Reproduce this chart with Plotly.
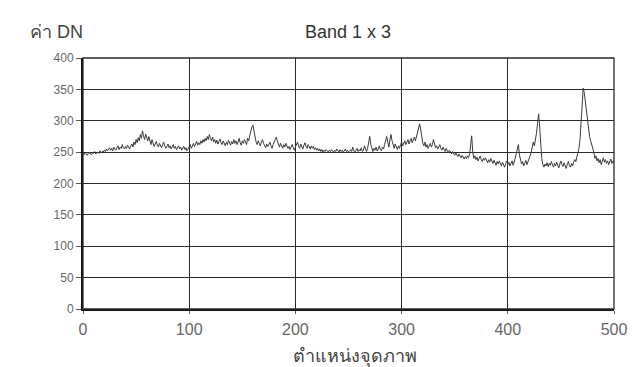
import plotly.graph_objects as go

# Pixel positions (band 1 x 3 profile)
dn_values = [
    248, 246, 249, 247, 245, 248, 250, 247, 246, 249, 248, 251, 247, 249, 250, 248, 252, 249, 251, 250,
    253, 251, 255, 252, 254, 257, 253, 256, 252, 258, 255, 253, 257, 260, 254, 258, 256, 262, 257, 255,
    259, 256, 261, 258, 255, 260, 263, 258, 266, 262, 270, 265, 273, 268, 278, 272, 284, 276, 270, 279,
    274, 268, 275, 266, 262, 270, 264, 259, 263, 267, 261, 258, 264, 260, 257, 262, 266, 260, 256, 259,
    263, 257, 260, 255, 258, 262, 256, 259, 254, 257, 260, 255, 258, 253, 256, 259, 254, 257, 252, 256,
    258, 262, 256, 260, 264, 259, 263, 267, 261, 265, 262, 268, 264, 270, 266, 272, 268, 275, 270, 278,
    272, 268, 274, 266, 270, 264, 269, 263, 267, 271, 265, 262, 268, 264, 260, 266, 262, 269, 265, 261,
    267, 263, 270, 264, 268, 262, 266, 272, 265, 261, 268, 264, 270, 266, 262, 272, 268, 276, 284, 290,
    293, 282, 272, 266, 262, 268, 264, 260, 266, 270, 264, 260, 257, 263, 259, 262, 266, 260, 256, 262,
    266, 270, 274, 268, 262, 258, 264, 260, 256, 262, 258, 264, 260, 256, 259, 254, 258, 262, 257, 253,
    258, 262, 266, 260, 256, 263, 259, 255, 261, 265, 259, 256, 262, 258, 255, 260, 256, 259, 254, 257,
    253, 256, 252, 255, 251, 254, 250, 253, 251, 254, 252, 250, 253, 251, 254, 252, 250, 253, 251, 255,
    252, 250, 254, 251, 253, 250, 252, 255, 251, 253, 250, 252, 254, 251, 258, 252, 250, 253, 256, 251,
    254, 252, 257, 251, 253, 260, 254, 251, 256, 265, 275, 262, 254, 251, 256, 253, 258, 252, 255, 260,
    254, 252, 258, 255, 262, 268, 275, 266, 258, 270, 278, 268, 260, 256, 263, 258, 254, 260, 256, 262,
    266, 260, 264, 268, 262, 266, 270, 263, 267, 272, 265, 269, 274, 268, 276, 282, 288, 295, 286, 272,
    264, 260, 266, 258, 262, 256, 260, 264, 258, 262, 270, 262, 257, 260, 255, 258, 262, 256, 253, 258,
    254, 251, 256, 252, 249, 253, 250, 247, 251, 248, 245, 249, 246, 243, 247, 244, 241, 245, 242, 239,
    243, 240, 244, 241, 246, 258, 276, 250, 240, 244, 238, 242, 236, 240, 244, 238, 235, 240, 237, 241,
    236, 233, 238, 234, 240, 236, 232, 237, 233, 229, 235, 231, 236, 232, 228, 234, 230, 226, 232, 236,
    230, 234, 228, 232, 236, 229, 233, 240, 248, 255, 262, 245, 236, 231, 235, 228, 232, 237, 230, 234,
    238, 244, 250, 258, 266, 260, 268, 280, 296, 311, 290, 262, 240, 230, 226, 231, 228, 233, 227, 232,
    229, 235, 230, 226, 232, 228, 234, 229, 225, 231, 236, 230, 227, 233, 228, 224, 230, 235, 229, 226,
    232, 228, 234, 238, 235, 242, 248, 256, 270, 300, 330, 352, 345, 330, 318, 305, 290, 275, 268, 262,
    258, 250, 240, 244, 236, 240, 233, 238, 230, 235, 241, 234, 238, 232, 236, 230, 234, 239, 232, 236, 233,
]
positions = list(range(len(dn_values)))

x_ticks = [0, 100, 200, 300, 400, 500]
y_ticks = [0, 50, 100, 150, 200, 250, 300, 350, 400]

title_text = "Band 1 x 3"
y_title = "ค่า DN"
x_title = "ตำแหน่งจุดภาพ"

FONT = "Liberation Sans, Arial, sans-serif"

fig = go.Figure()
fig.add_trace(go.Scatter(
    x=positions, y=dn_values, mode="lines",
    line=dict(color="#3a3a3a", width=1),
    hoverinfo="skip", showlegend=False,
))

fig.update_layout(
    width=642, height=367,
    paper_bgcolor="white", plot_bgcolor="white",
    margin=dict(l=75, r=36, t=50, b=66),
    font=dict(family=FONT, color="#444"),
    showlegend=False,
    xaxis=dict(
        range=[0, 500], tickvals=x_ticks, ticktext=[str(v) for v in x_ticks],
        showgrid=True, gridcolor="#2a2a2a", gridwidth=1.3,
        showline=True, linecolor="#111", linewidth=2, mirror=False,
        ticks="outside", ticklen=3, tickcolor="#555",
        tickfont=dict(size=16, color="#666", family=FONT),
        ticklabelstandoff=2,
        zeroline=False,
    ),
    yaxis=dict(
        range=[0, 400], tickvals=y_ticks, ticktext=[str(v) for v in y_ticks],
        showgrid=True, gridcolor="#2a2a2a", gridwidth=1.3,
        showline=True, linecolor="#111", linewidth=2, mirror=False,
        ticks="outside", ticklen=5, tickcolor="#555",
        tickfont=dict(size=12, color="#666", family=FONT),
        zeroline=False,
    ),
    shapes=[
        dict(type="rect", xref="paper", yref="paper", x0=0, y0=0, x1=1, y1=1,
             line=dict(color="#2a2a2a", width=1.3), fillcolor="rgba(0,0,0,0)", layer="above"),
    ],
    annotations=[
        dict(text=title_text, xref="paper", yref="paper", x=(340 - 75) / 531, y=1,
             yshift=26, xanchor="center", yanchor="middle", showarrow=False,
             font=dict(size=18, color="#333", family=FONT)),
        dict(text=y_title, xref="paper", yref="paper", x=(20 - 75) / 531, y=1,
             yshift=26, xanchor="left", yanchor="middle", showarrow=False,
             font=dict(size=18, color="#444", family=FONT)),
        dict(text=x_title, xref="paper", yref="paper", x=(347 - 75) / 531, y=0,
             yshift=-47, xanchor="center", yanchor="middle", showarrow=False,
             font=dict(size=18, color="#444", family=FONT)),
    ],
)

fig.write_html("out.html")
